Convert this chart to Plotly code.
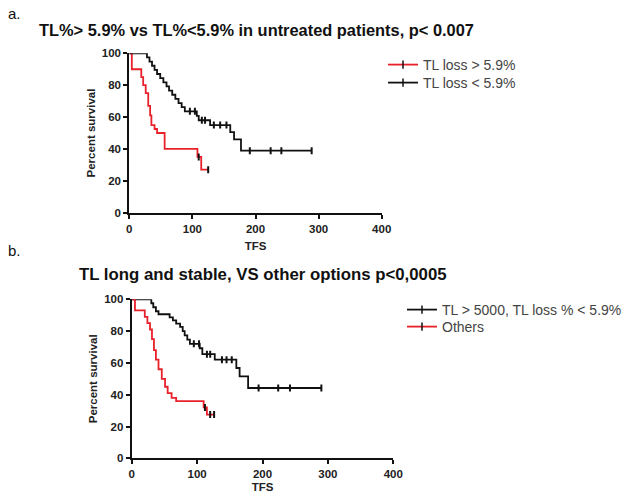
import plotly.graph_objects as go

# ---- Panel a: TL loss > 5.9% vs < 5.9% (untreated patients) ----
a_high_t = [0, 4, 19, 22, 26, 30, 33, 35, 40, 44, 56, 108, 114, 125]
a_high_s = [100, 90, 85, 80, 75, 67, 61, 55, 52.5, 50, 40, 35, 27, 27]
a_high_cens_t = [110, 125]
a_high_cens_s = [35, 27]

a_low_t = [0, 28, 32, 36, 40, 44, 49, 54, 59, 63, 68, 73, 78, 83, 88, 107, 110, 128, 160, 166, 177, 289]
a_low_s = [100, 97.4, 94.8, 92.2, 89.6, 87.0, 84.4, 81.8, 79.2, 76.6, 74.0, 71.4, 68.8, 66.2, 63.6,
           60.8, 58.0, 55.0, 50.5, 46.0, 38.9, 38.9]
a_low_cens_t = [96, 104, 115, 120, 134, 144, 154, 191, 224, 241, 289]
a_low_cens_s = [63.6, 63.6, 58.0, 58.0, 55.0, 55.0, 55.0, 38.9, 38.9, 38.9, 38.9]

# ---- Panel b: long and stable TL vs others ----
b_stable_t = [0, 30, 33, 37, 41, 58, 63, 68, 74, 78, 81, 85, 89, 104, 108, 127, 160, 165, 178, 290]
b_stable_s = [100, 97.5, 95, 92.5, 90.6, 88.6, 86.7, 84.7, 82.6, 80, 77.3, 74.6, 72, 69.2, 65.5,
              62, 56.8, 51.5, 44.2, 44.2]
b_stable_cens_t = [95, 103, 115, 120, 138, 145, 153, 194, 224, 242, 290]
b_stable_cens_s = [72, 72, 65.5, 65.5, 62, 62, 62, 44.2, 44.2, 44.2, 44.2]

b_other_t = [0, 5, 20, 24, 28, 31, 34, 37, 41, 46, 51, 55, 61, 68, 110, 115, 126]
b_other_s = [100, 93, 89, 85, 81, 75, 68, 62, 56, 50, 45, 41, 38, 36, 32, 27.5, 27.5]
b_other_cens_t = [112, 120, 126]
b_other_cens_s = [32, 27.5, 27.5]

x_ticks = [0, 100, 200, 300, 400]
y_ticks = [0, 20, 40, 60, 80, 100]

RED = "#e8202a"
BLACK = "#111111"
FONT = "Arial, Liberation Sans, sans-serif"

W, H = 629, 493


def px_x(v):
    return v / W


def px_y(v):
    return 1 - v / H


fig = go.Figure()


def add_curve(t, s, ct, cs, color, name, xa, ya, legend):
    fig.add_trace(go.Scatter(
        x=t, y=s, mode="lines", line=dict(color=color, width=1.8, shape="hv"),
        xaxis=xa, yaxis=ya, showlegend=False, hoverinfo="skip"))
    fig.add_trace(go.Scatter(
        x=ct, y=cs, mode="markers",
        marker=dict(symbol="line-ns-open", size=5, color=BLACK, line=dict(color=BLACK, width=2)),
        xaxis=xa, yaxis=ya, showlegend=False, hoverinfo="skip"))
    # legend entry: line with a censor tick
    fig.add_trace(go.Scatter(
        x=[None], y=[None], mode="lines+markers", name=name,
        line=dict(color=color, width=1.8),
        marker=dict(symbol="line-ns-open", size=6, color=BLACK, line=dict(color=BLACK, width=1.5)),
        xaxis=xa, yaxis=ya, legend=legend))


add_curve(a_high_t, a_high_s, a_high_cens_t, a_high_cens_s, RED, "TL loss > 5.9%", "x", "y", "legend")
add_curve(a_low_t, a_low_s, a_low_cens_t, a_low_cens_s, BLACK, "TL loss < 5.9%", "x", "y", "legend2")
add_curve(b_stable_t, b_stable_s, b_stable_cens_t, b_stable_cens_s, BLACK,
          "TL > 5000, TL loss % < 5.9%", "x2", "y2", "legend3")
add_curve(b_other_t, b_other_s, b_other_cens_t, b_other_cens_s, RED, "Others", "x2", "y2", "legend4")

axis_common = dict(
    showgrid=False, zeroline=False, showline=True, linecolor=BLACK, linewidth=2,
    ticks="outside", ticklen=4, tickwidth=2, tickcolor=BLACK,
    tickfont=dict(family=FONT, size=11.5, color="#222222", weight="bold"),
    fixedrange=True, automargin=False,
)
xt = dict(tickvals=x_ticks, ticktext=[str(v) for v in x_ticks], range=[0, 400])
yt = dict(tickvals=y_ticks, ticktext=[str(v) for v in y_ticks], range=[0, 100])
title_font = dict(family=FONT, size=11.5, color="#222222", weight="bold")

legend_font = dict(family=FONT, size=14, color="#444444")


def legend_at(x, y):
    return dict(x=px_x(x), y=px_y(y), xanchor="left", yanchor="middle",
                font=legend_font, bgcolor="rgba(0,0,0,0)", itemwidth=30)


fig.update_layout(
    width=W, height=H, margin=dict(l=0, r=0, t=0, b=0, autoexpand=False),
    paper_bgcolor="white", plot_bgcolor="white",
    xaxis=dict(**axis_common, **xt, domain=[px_x(129.3), px_x(381.7)], anchor="y",
               title=dict(text="TFS", font=title_font, standoff=8)),
    yaxis=dict(**axis_common, **yt, domain=[px_y(212.7), px_y(53.3)], anchor="x",
               title=dict(text="Percent survival", font=title_font, standoff=4)),
    xaxis2=dict(**axis_common, **xt, domain=[px_x(131.7), px_x(393.3)], anchor="y2",
                title=dict(text="TFS", font=title_font, standoff=8)),
    yaxis2=dict(**axis_common, **yt, domain=[px_y(458.3), px_y(299.3)], anchor="x2",
                title=dict(text="Percent survival", font=title_font, standoff=4)),
    legend=legend_at(383, 65),
    legend2=legend_at(383, 83),
    legend3=legend_at(402, 310),
    legend4=legend_at(402, 327),
    showlegend=True,
)

annots = [
    dict(text="a.", x=px_x(6), y=px_y(13), size=15, bold=False),
    dict(text="TL%> 5.9% vs TL%<5.9% in untreated patients, p< 0.007", x=px_x(37), y=px_y(30),
         size=16.4, bold=True),
    dict(text="b.", x=px_x(6), y=px_y(250), size=15, bold=False),
    dict(text="TL long and stable, VS other options p<0,0005", x=px_x(77), y=px_y(274),
         size=16.8, bold=True),
]
for a in annots:
    fig.add_annotation(
        text=a["text"], x=a["x"], y=a["y"], xref="paper", yref="paper",
        xanchor="left", yanchor="middle", showarrow=False,
        font=dict(family=FONT, size=a["size"], color="#111111",
                  weight="bold" if a["bold"] else "normal"))

fig.write_html("out.html")
